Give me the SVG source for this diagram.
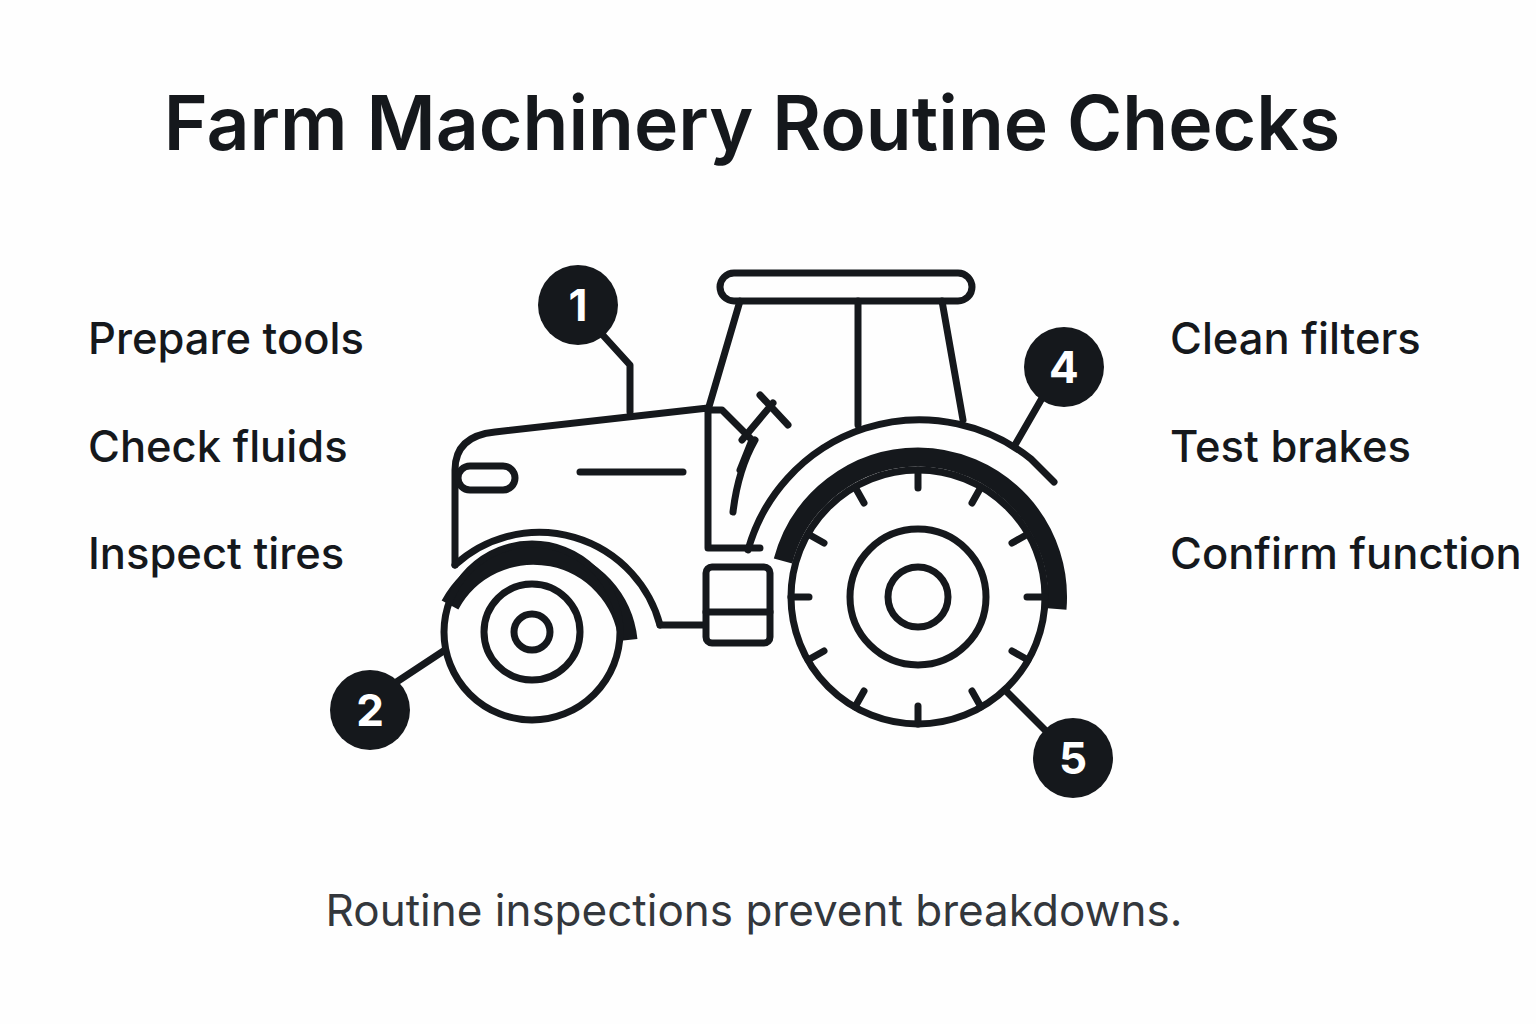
<svg xmlns="http://www.w3.org/2000/svg" width="1536" height="1024" viewBox="0 0 1536 1024">
<style>
.t{font-family:Inter,"Liberation Sans",sans-serif;fill:#15181c}
.lbl{font-size:43.5px;font-weight:500}
.s{fill:none;stroke:#15181c;stroke-width:7;stroke-linecap:round;stroke-linejoin:round}
.k{fill:none;stroke:#15181c;stroke-width:19}
.n{font-family:Inter,"Liberation Sans",sans-serif;font-size:44px;font-weight:700;fill:#fff;text-anchor:middle}
</style>
<rect width="1536" height="1024" fill="#fefefe"/>
<text class="t" x="752" y="150" font-size="75" font-weight="600" text-anchor="middle">Farm Machinery Routine Checks</text>
<g id="labels-left">
<text class="t lbl" x="88" y="354">Prepare tools</text>
<text class="t lbl" x="88" y="462">Check fluids</text>
<text class="t lbl" x="88" y="569">Inspect tires</text>
</g>
<g id="labels-right">
<text class="t lbl" x="1170" y="354">Clean filters</text>
<text class="t lbl" x="1170" y="462">Test brakes</text>
<text class="t lbl" x="1170" y="569">Confirm function</text>
</g>
<g id="tractor">
<rect class="s" x="720" y="273" width="252" height="28" rx="14"/>
<path class="s" d="M740 301 L708 410 M858 301 L858 425 M942 301 L963 420"/>
<path class="s" d="M455 565 L455 470 Q455 436 495 432 L708 408 L708 548 L760 548"/>
<path class="s" d="M708 410 L722 410 L752 440 L740 470 M733 512 Q738 470 755 440"/>
<path class="s" d="M760 395 L788 425 M742 440 L773 403"/>
<rect class="s" x="458" y="466" width="57" height="24" rx="12"/>
<path class="s" d="M580 472 L683 472"/>
<path class="s" d="M748 550 A178 178 0 0 1 1031 459 L1054 482"/>
<path class="k" d="M783 561 A140 140 0 0 1 918 457 A140 140 0 0 1 1057 609"/>
<circle class="s" cx="918" cy="597" r="127"/>
<circle class="s" cx="918" cy="597" r="68"/>
<circle class="s" cx="918" cy="597" r="30"/>
<g class="s">
<path d="M1045 597 L1027 597 M791 597 L809 597 M918 470 L918 488 M918 724 L918 706"/>
<path d="M1028 534 L1012 543 M808 660 L824 651 M855 487 L864 503 M981 707 L972 691"/>
<path d="M981 487 L972 503 M855 707 L864 691 M808 534 L824 543 M1028 660 L1012 651"/>
</g>
<path class="s" d="M455 565 A125 125 0 0 1 660 625"/>
<path class="k" d="M450 605 A95 95 0 0 1 628 640"/>
<circle class="s" cx="532" cy="632" r="88"/>
<circle class="s" cx="532" cy="632" r="48"/>
<circle class="s" cx="532" cy="632" r="18"/>
<path class="s" d="M660 625 L705 625"/>
<rect class="s" x="706" y="567" width="64" height="76" rx="6"/>
<path class="s" d="M706 612 L770 612"/>
</g>
<g id="connectors" class="s">
<path d="M600 332 L630 365 L630 412"/>
<path d="M392 685 L445 650"/>
<path d="M1045 393 L1015 445"/>
<path d="M1050 735 L1005 690"/>
</g>
<g id="c1"><circle cx="578" cy="305" r="40" fill="#15181c"/><text class="n" x="578" y="321">1</text></g>
<g id="c2"><circle cx="370" cy="710" r="40" fill="#15181c"/><text class="n" x="370" y="726">2</text></g>
<g id="c4"><circle cx="1064" cy="367" r="40" fill="#15181c"/><text class="n" x="1064" y="383">4</text></g>
<g id="c5"><circle cx="1073" cy="758" r="40" fill="#15181c"/><text class="n" x="1073" y="774">5</text></g>
<text x="754" y="926" font-family="Inter,'Liberation Sans',sans-serif" font-size="44" fill="#33373c" text-anchor="middle">Routine inspections prevent breakdowns.</text>
</svg>
